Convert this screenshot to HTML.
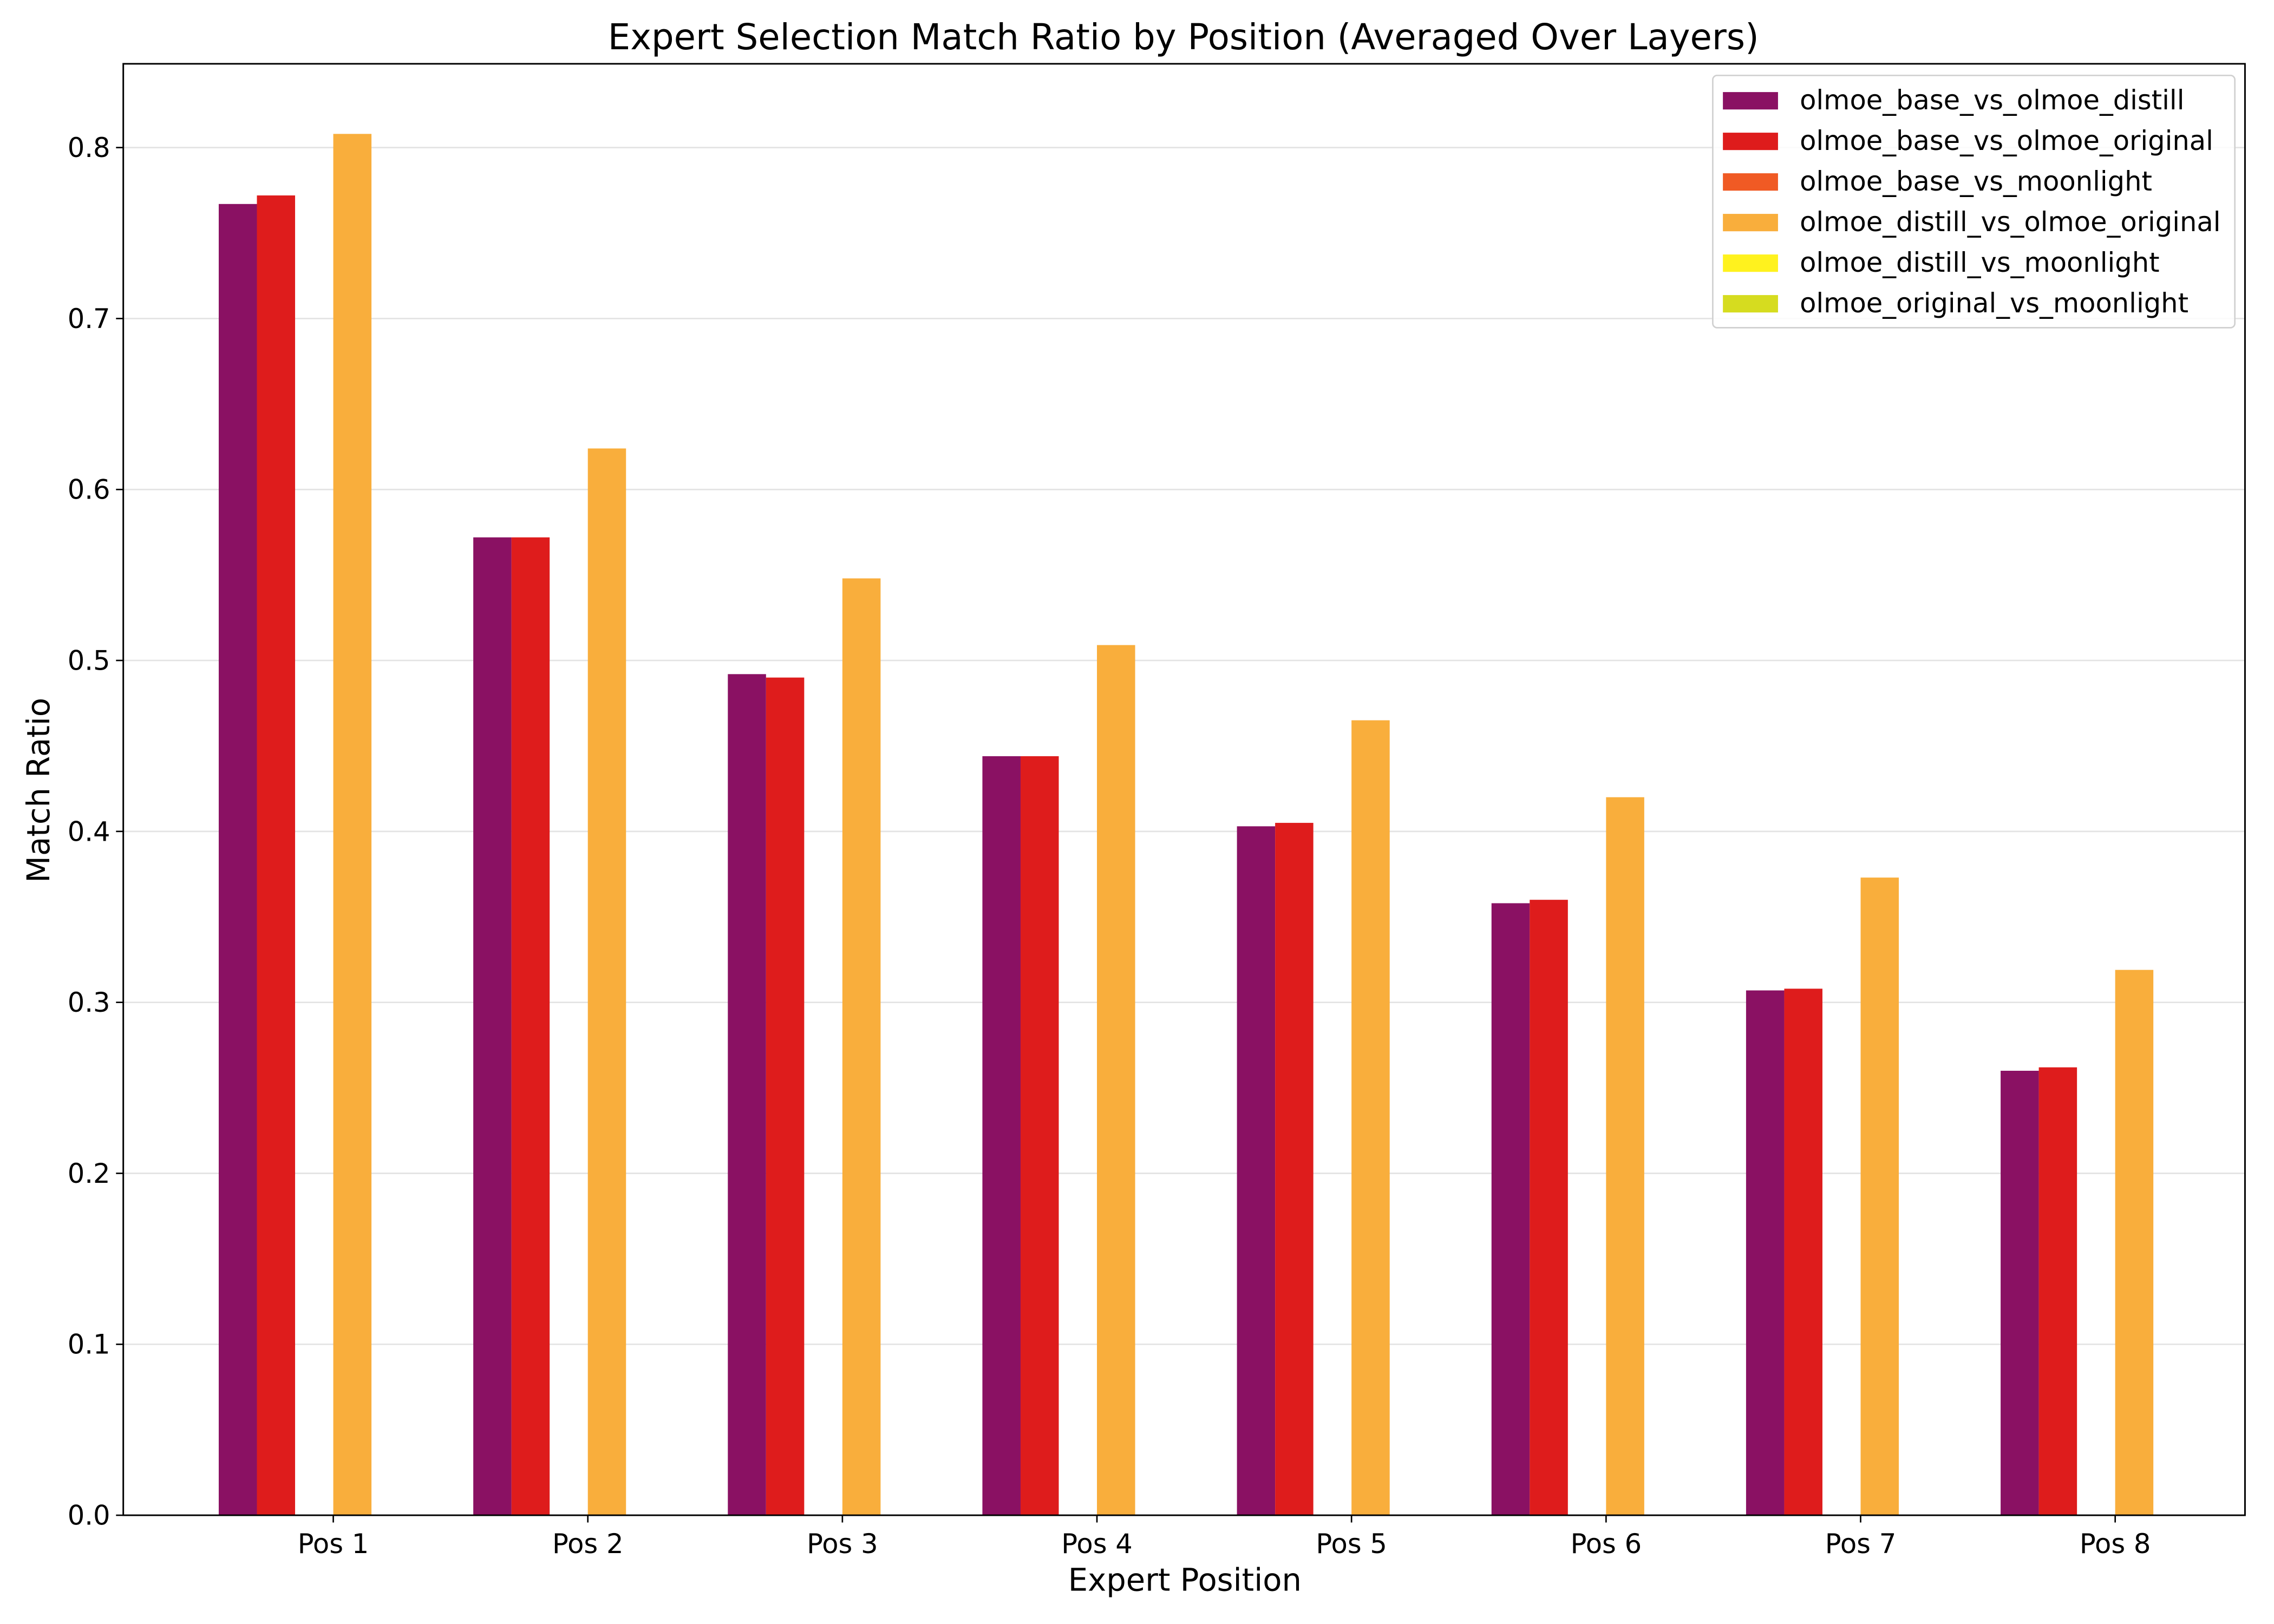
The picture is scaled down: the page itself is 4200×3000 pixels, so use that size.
<!DOCTYPE html>
<html><head><meta charset="utf-8"><style>
html,body{margin:0;padding:0;background:#fff;}
svg{display:block;font-family:"DejaVu Sans","Liberation Sans",sans-serif;}
</style></head><body>
<svg id="chart" width="4200" height="3000" viewBox="0 0 1568 1120" preserveAspectRatio="none" xmlns="http://www.w3.org/2000/svg">
<rect x="0" y="0" width="1568" height="1120" fill="#fff"/>
<text x="816" y="34" font-size="24.5" text-anchor="middle" fill="#000">Expert Selection Match Ratio by Position (Averaged Over Layers)</text>
<g id="grid"></g>
<g id="bars"></g>
<g id="axes"></g>
<text x="817" y="1097" font-size="21.5" text-anchor="middle">Expert Position</text>
<text x="34" y="545" font-size="21.5" text-anchor="middle" transform="rotate(-90 34 545)">Match Ratio</text>
<g id="legend"></g>
</svg>
<script>
const categories = ["Pos 1","Pos 2","Pos 3","Pos 4","Pos 5","Pos 6","Pos 7","Pos 8"];
const seriesNames = ["olmoe_base_vs_olmoe_distill","olmoe_base_vs_olmoe_original","olmoe_base_vs_moonlight","olmoe_distill_vs_olmoe_original","olmoe_distill_vs_moonlight","olmoe_original_vs_moonlight"];
const baseDistill = [0.767,0.572,0.492,0.444,0.403,0.358,0.307,0.260];
const baseOriginal = [0.772,0.572,0.490,0.444,0.405,0.360,0.308,0.262];
const baseMoonlight = [0,0,0,0,0,0,0,0];
const distillOriginal = [0.808,0.624,0.548,0.509,0.465,0.420,0.373,0.319];
const distillMoonlight = [0,0,0,0,0,0,0,0];
const originalMoonlight = [0,0,0,0,0,0,0,0];
const yTicks = [0,0.1,0.2,0.3,0.4,0.5,0.6,0.7,0.8];
const colors = ["#8a1163","#de1c1c","#f05a24","#f9ae3c","#fff21e","#d6dc1f"];
const series = [baseDistill,baseOriginal,baseMoonlight,distillOriginal,distillMoonlight,originalMoonlight];

const NS="http://www.w3.org/2000/svg";
const L=85,R=1548,T=44,B=1045;
const xmin=-0.825,xmax=7.51,ymax=0.849;
const xs=v=>L+(v-xmin)/(xmax-xmin)*(R-L);
const ys=v=>B-v/ymax*(B-T);
function mk(tag,attrs,parent,txt){const e=document.createElementNS(NS,tag);for(const k in attrs)e.setAttribute(k,attrs[k]);if(txt!==undefined)e.textContent=txt;parent.appendChild(e);return e;}
const grid=document.getElementById('grid'),bars=document.getElementById('bars'),axes=document.getElementById('axes'),legend=document.getElementById('legend');
yTicks.forEach(t=>{
  const g=mk('line',{x1:L,x2:R,y1:ys(t),y2:ys(t),stroke:"#e3e3e3","stroke-width":1},grid);
  
  
  const tk=mk('line',{x1:L-5,x2:L,y1:ys(t),y2:ys(t),stroke:"#000","stroke-width":1},axes);
  
  
  const lb=mk('text',{x:L-9,y:ys(t)+6.5,"font-size":18.5,"text-anchor":"end"},axes,t.toFixed(1));
  
  
});
const w=0.15;
series.forEach((s,si)=>{
  s.forEach((v,ci)=>{
    const x0=ci+(si-3)*w;
    const r=mk('rect',{x:xs(x0),y:ys(v),width:xs(x0+w)-xs(x0),height:ys(0)-ys(v),fill:colors[si]},bars);
    
    
  });
});
categories.forEach((c,ci)=>{
  const tk=mk('line',{x1:xs(ci),x2:xs(ci),y1:B,y2:B+5,stroke:"#000","stroke-width":1},axes);
  
  
  const lb=mk('text',{x:xs(ci),y:B+26,"font-size":18.5,"text-anchor":"middle"},axes,c);
  
  
});
const frame=mk('rect',{x:L,y:T,width:R-L,height:B-T,fill:"none",stroke:"#000","stroke-width":1.1},axes);


const lbox=mk('rect',{x:1181,y:52,width:360,height:174,rx:3,fill:"#fff","fill-opacity":0.85,stroke:"#d0d0d0","stroke-width":1},legend);


seriesNames.forEach((n,i)=>{
  const y=69+i*28;
  const p=mk('rect',{x:1188,y:y-5.5,width:38,height:12,fill:colors[i]},legend);
  
  
  const t=mk('text',{x:1241,y:y+6.5,"font-size":18.5},legend,n);
  
  
});
</script>
</body></html>
